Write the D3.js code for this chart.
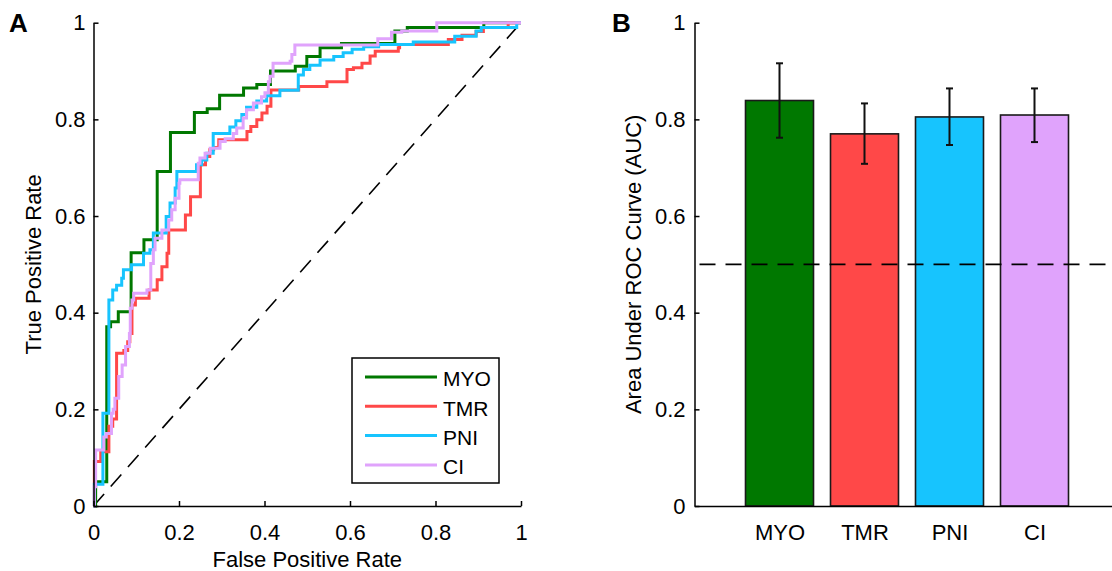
<!DOCTYPE html>
<html>
<head>
<meta charset="utf-8">
<script src="https://cdn.jsdelivr.net/npm/d3@7"></script>
<style>
  body { margin: 0; background: #fff; }
  svg { display: block; font-family: "Liberation Sans", Arial, sans-serif; }
</style>
</head>
<body>
<script>
// ROC curves (fpr, tpr) - corners of each step
var rocMYO = [[0,0],[0.005,0.05],[0.031,0.371],[0.04,0.381],[0.058,0.402],[0.088,0.524],[0.118,0.551],[0.149,0.692],[0.18,0.773],[0.236,0.814],[0.266,0.822],[0.295,0.85],[0.351,0.865],[0.382,0.872],[0.414,0.90],[0.472,0.91],[0.499,0.93],[0.53,0.948],[0.58,0.957],[0.705,0.983],[0.734,0.99],[0.913,1],[1,1]];
var rocTMR = [[0,0],[0.002,0.092],[0.017,0.112],[0.036,0.165],[0.045,0.18],[0.054,0.316],[0.071,0.322],[0.08,0.34],[0.085,0.357],[0.09,0.416],[0.098,0.43],[0.13,0.447],[0.149,0.468],[0.16,0.495],[0.172,0.523],[0.176,0.571],[0.215,0.602],[0.227,0.64],[0.25,0.706],[0.262,0.723],[0.272,0.737],[0.281,0.742],[0.293,0.758],[0.359,0.775],[0.368,0.785],[0.382,0.799],[0.394,0.813],[0.406,0.827],[0.415,0.861],[0.48,0.868],[0.546,0.878],[0.593,0.903],[0.608,0.907],[0.628,0.916],[0.647,0.931],[0.659,0.941],[0.713,0.948],[0.716,0.955],[0.83,0.965],[0.862,0.974],[0.895,0.982],[0.912,0.99],[0.97,1],[1,1]];
var rocPNI = [[0,0],[0.002,0.045],[0.022,0.192],[0.036,0.426],[0.045,0.447],[0.054,0.457],[0.066,0.471],[0.07,0.489],[0.089,0.499],[0.117,0.523],[0.132,0.53],[0.14,0.565],[0.17,0.599],[0.179,0.627],[0.191,0.658],[0.195,0.692],[0.241,0.706],[0.253,0.716],[0.265,0.73],[0.28,0.771],[0.319,0.784],[0.333,0.797],[0.347,0.81],[0.358,0.825],[0.382,0.838],[0.405,0.849],[0.436,0.86],[0.479,0.892],[0.491,0.903],[0.506,0.912],[0.53,0.923],[0.562,0.93],[0.584,0.938],[0.605,0.945],[0.632,0.95],[0.667,0.955],[0.748,0.96],[0.845,0.972],[0.895,0.983],[0.907,0.99],[0.99,1],[1,1]];
var rocCI = [[0,0],[0.002,0.04],[0.005,0.116],[0.024,0.143],[0.03,0.15],[0.042,0.192],[0.046,0.2],[0.05,0.223],[0.059,0.268],[0.067,0.292],[0.075,0.33],[0.084,0.357],[0.086,0.409],[0.09,0.426],[0.094,0.44],[0.125,0.447],[0.134,0.502],[0.14,0.53],[0.144,0.554],[0.16,0.571],[0.176,0.592],[0.183,0.613],[0.191,0.637],[0.2,0.668],[0.202,0.675],[0.245,0.709],[0.249,0.72],[0.261,0.73],[0.273,0.74],[0.296,0.754],[0.308,0.76],[0.327,0.771],[0.335,0.782],[0.35,0.803],[0.358,0.82],[0.374,0.834],[0.393,0.847],[0.401,0.855],[0.409,0.878],[0.413,0.889],[0.42,0.916],[0.46,0.92],[0.464,0.934],[0.471,0.954],[0.665,0.967],[0.697,0.98],[0.721,0.983],[0.803,1],[1,1]];

var groups = ["MYO", "TMR", "PNI", "CI"];
var colors = ["#007800", "#ff4848", "#17c4fe", "#e0a3fc"];
var aucMean = [0.839, 0.770, 0.805, 0.809];
var aucLow = [0.762, 0.708, 0.747, 0.753];
var aucHigh = [0.916, 0.833, 0.864, 0.864];
var rateTicks = [0, 0.2, 0.4, 0.6, 0.8, 1];
var chance = 0.5;

var rocs = [rocMYO, rocTMR, rocPNI, rocCI];
var fontSize = 22;

var svg = d3.select("body").append("svg").attr("width", 1112).attr("height", 571);

// ---------- panel A : ROC ----------
var x = d3.scaleLinear().domain([0, 1]).range([93.5, 521]);
var y = d3.scaleLinear().domain([0, 1]).range([506, 22.7]);
var fmt = d3.format("~g");

function styleAxis(g) {
  g.attr("font-family", null).attr("font-size", fontSize);
  g.selectAll("path, line").attr("stroke", "#000").attr("stroke-width", 1.5);
  g.selectAll("text").attr("fill", "#000");
}

var gA = svg.append("g");

gA.append("line")
  .attr("x1", x(0)).attr("y1", y(0)).attr("x2", x(1)).attr("y2", y(1))
  .attr("stroke", "#000").attr("stroke-width", 1.6)
  .attr("stroke-dasharray", "16,10");

var line = d3.line()
  .x(function (d) { return x(d[0]); })
  .y(function (d) { return y(d[1]); })
  .curve(d3.curveStepAfter);

rocs.forEach(function (r, i) {
  gA.append("path")
    .attr("fill", "none")
    .attr("stroke", colors[i])
    .attr("stroke-width", 3)
    .attr("d", line(r));
});

gA.append("g").attr("transform", "translate(0," + y(0) + ")")
  .call(d3.axisBottom(x).tickValues(rateTicks).tickFormat(fmt).tickSizeInner(-5).tickSizeOuter(0).tickPadding(18))
  .call(styleAxis);
gA.append("g").attr("transform", "translate(" + x(0) + ",0)")
  .call(d3.axisLeft(y).tickValues(rateTicks).tickFormat(fmt).tickSizeInner(-5).tickSizeOuter(0).tickPadding(8))
  .call(styleAxis);

gA.append("text").attr("x", (x(0) + x(1)) / 2).attr("y", 567)
  .attr("text-anchor", "middle").attr("font-size", fontSize).text("False Positive Rate");
gA.append("text").attr("transform", "translate(41," + (y(0) + y(1)) / 2 + ") rotate(-90)")
  .attr("text-anchor", "middle").attr("font-size", fontSize).text("True Positive Rate");
gA.append("text").attr("x", 9).attr("y", 32).attr("font-size", 26).attr("font-weight", "bold").text("A");

// legend
var leg = gA.append("g");
leg.append("rect").attr("x", 352).attr("y", 358).attr("width", 147).attr("height", 125)
  .attr("fill", "#fff").attr("stroke", "#000").attr("stroke-width", 1.5);
groups.forEach(function (g, i) {
  var ly = 377 + i * 29.3;
  leg.append("line").attr("x1", 365).attr("x2", 437).attr("y1", ly).attr("y2", ly)
    .attr("stroke", colors[i]).attr("stroke-width", 3);
  leg.append("text").attr("x", 443).attr("y", ly + 2).attr("dy", "0.35em")
    .attr("font-size", 21).text(g);
});

// ---------- panel B : AUC bars ----------
var xb = d3.scaleLinear().domain([0, 5]).range([694.5, 1119.5]);
var barW = 0.8;
var gB = svg.append("g");

groups.forEach(function (g, i) {
  var c = i + 1;
  gB.append("rect")
    .attr("x", xb(c - barW / 2)).attr("width", xb(c + barW / 2) - xb(c - barW / 2))
    .attr("y", y(aucMean[i])).attr("height", y(0) - y(aucMean[i]))
    .attr("fill", colors[i]).attr("stroke", "#1a1a1a").attr("stroke-width", 1.6);
});

// dashed chance line shows through the bars
gB.append("line")
  .attr("x1", xb(0) + 5).attr("x2", 1112).attr("y1", y(chance)).attr("y2", y(chance))
  .attr("stroke", "#000").attr("stroke-width", 1.6).attr("stroke-dasharray", "16,10");

groups.forEach(function (g, i) {
  var cx = xb(i + 1);
  var eb = gB.append("g").attr("stroke", "#111").attr("stroke-width", 2);
  eb.append("line").attr("x1", cx).attr("x2", cx).attr("y1", y(aucLow[i])).attr("y2", y(aucHigh[i]));
  eb.append("line").attr("x1", cx - 3.5).attr("x2", cx + 3.5).attr("y1", y(aucLow[i])).attr("y2", y(aucLow[i]));
  eb.append("line").attr("x1", cx - 3.5).attr("x2", cx + 3.5).attr("y1", y(aucHigh[i])).attr("y2", y(aucHigh[i]));
});

gB.append("g").attr("transform", "translate(0," + y(0) + ")")
  .call(d3.axisBottom(xb).tickValues([1, 2, 3, 4]).tickFormat(function (d) { return groups[d - 1]; })
    .tickSizeInner(0).tickSizeOuter(0).tickPadding(18))
  .call(styleAxis);
gB.append("g").attr("transform", "translate(" + xb(0) + ",0)")
  .call(d3.axisLeft(y).tickValues(rateTicks).tickFormat(fmt).tickSizeInner(-5).tickSizeOuter(0).tickPadding(9))
  .call(styleAxis);

gB.append("text").attr("transform", "translate(641," + (y(0) + y(1)) / 2 + ") rotate(-90)")
  .attr("text-anchor", "middle").attr("font-size", fontSize).text("Area Under ROC Curve (AUC)");
gB.append("text").attr("x", 612).attr("y", 32).attr("font-size", 26).attr("font-weight", "bold").text("B");
</script>
</body>
</html>
